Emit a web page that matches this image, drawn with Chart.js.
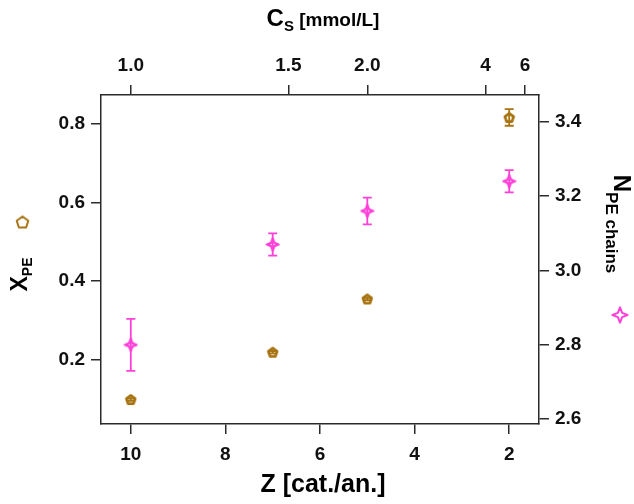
<!DOCTYPE html>
<html>
<head>
<meta charset="utf-8">
<script src="https://cdn.jsdelivr.net/npm/chart.js@4.4.0/dist/chart.umd.min.js"></script>
<style>
html, body { margin: 0; padding: 0; background: #fff; }
#wrap { width: 634px; height: 504px; }
</style>
</head>
<body>
<div id="wrap"><canvas id="chart" width="634" height="504"></canvas></div>
<script>
// ---------- data ----------
const zValues = [10, 7, 5, 2];
const xpeValues = [0.10, 0.22, 0.355, 0.815];
const xpeErrors = [0.003, 0.003, 0.003, 0.021];
const nChainValues = [2.80, 3.07, 3.16, 3.24];
const nChainErrors = [0.07, 0.03, 0.036, 0.03];

const zTicks = [10, 8, 6, 4, 2];
const csTickValues = [1.0, 1.5, 2.0, 4, 6];     // top axis, Cs = 10 / Z
const csTickLabels = ["1.0", "1.5", "2.0", "4", "6"];
const xpeTicks = [0.2, 0.4, 0.6, 0.8];
const nChainTicks = [2.6, 2.8, 3.0, 3.2, 3.4];

// ---------- styles ----------
const FONT = "'Liberation Sans', Arial, sans-serif";
const brown = "#a87412";
const pink = "#ff40d8";
const axisColor = "#2b2b2b";
const tickFont = { family: FONT, size: 19, weight: "bold" };

// ---------- marker images ----------
function makePentagon(size, color, lw) {
    const c = document.createElement("canvas");
    c.width = c.height = size;
    const g = c.getContext("2d");
    const r = size / 2 - lw * 0.7;
    const cx = size / 2, cy = size / 2 + r * 0.1;
    g.beginPath();
    for (let i = 0; i < 5; i++) {
        const a = -Math.PI / 2 + i * 2 * Math.PI / 5;
        g.lineTo(cx + r * Math.cos(a), cy + r * Math.sin(a));
    }
    g.closePath();
    g.strokeStyle = color;
    g.lineWidth = lw;
    g.lineJoin = "round";
    g.stroke();
    return c;
}

function makeStar(size, color, lw) {
    const c = document.createElement("canvas");
    c.width = c.height = size;
    const g = c.getContext("2d");
    const r = size / 2 - lw * 0.7;
    const k = r * 0.28;
    const cx = size / 2, cy = size / 2;
    g.beginPath();
    g.moveTo(cx, cy - r);
    g.lineTo(cx + k, cy - k);
    g.lineTo(cx + r, cy);
    g.lineTo(cx + k, cy + k);
    g.lineTo(cx, cy + r);
    g.lineTo(cx - k, cy + k);
    g.lineTo(cx - r, cy);
    g.lineTo(cx - k, cy - k);
    g.closePath();
    g.strokeStyle = color;
    g.lineWidth = lw;
    g.lineJoin = "round";
    g.stroke();
    return c;
}

const pentagonMark = makePentagon(13, brown, 2.8);
const starMark = makeStar(15, pink, 2.4);
const pentagonLegend = makePentagon(15, brown, 2);
const starLegend = makeStar(18, pink, 2);

// ---------- plugins ----------
const errorBars = {
    id: "errorBars",
    afterDatasetsDraw(chart) {
        const ctx = chart.ctx;
        chart.data.datasets.forEach((ds, i) => {
            const meta = chart.getDatasetMeta(i);
            const yScale = chart.scales[ds.yAxisID];
            ctx.save();
            ctx.strokeStyle = ds.borderColor;
            ctx.lineWidth = 1.8;
            meta.data.forEach((pt, j) => {
                const v = ds.data[j].y, e = ds.errors[j];
                const top = yScale.getPixelForValue(v + e);
                const bot = yScale.getPixelForValue(v - e);
                ctx.beginPath();
                ctx.moveTo(pt.x, top); ctx.lineTo(pt.x, bot);
                ctx.moveTo(pt.x - 4.5, top); ctx.lineTo(pt.x + 4.5, top);
                ctx.moveTo(pt.x - 4.5, bot); ctx.lineTo(pt.x + 4.5, bot);
                ctx.stroke();
            });
            ctx.restore();
        });
    }
};

const axisTitles = {
    id: "axisTitles",
    afterDraw(chart) {
        const ctx = chart.ctx;
        ctx.save();
        ctx.fillStyle = "#000";
        ctx.textBaseline = "alphabetic";
        ctx.textAlign = "left";

        // top: C_S [mmol/L]
        ctx.font = `bold 24px ${FONT}`;
        const wC = ctx.measureText("C").width;
        ctx.font = `bold 15px ${FONT}`;
        const wS = ctx.measureText("S").width;
        ctx.font = `bold 19px ${FONT}`;
        const wU = ctx.measureText(" [mmol/L]").width;
        let x0 = 323 - (wC + wS + wU) / 2;
        ctx.font = `bold 24px ${FONT}`;
        ctx.fillText("C", x0, 26);
        ctx.font = `bold 15px ${FONT}`;
        ctx.fillText("S", x0 + wC, 31);
        ctx.font = `bold 19px ${FONT}`;
        ctx.fillText(" [mmol/L]", x0 + wC + wS, 26);

        // bottom: Z [cat./an.]
        ctx.font = `bold 25px ${FONT}`;
        ctx.textAlign = "center";
        ctx.fillText("Z [cat./an.]", 323, 492);
        ctx.textAlign = "left";

        // left: X_PE
        ctx.save();
        ctx.translate(27, 274.5);
        ctx.rotate(-Math.PI / 2);
        ctx.font = `bold 23px ${FONT}`;
        const wX = ctx.measureText("X").width;
        ctx.font = `bold 14px ${FONT}`;
        const wPE = ctx.measureText("PE").width;
        x0 = -(wX + wPE) / 2;
        ctx.font = `bold 23px ${FONT}`;
        ctx.fillText("X", x0, 0);
        ctx.font = `bold 14px ${FONT}`;
        ctx.fillText("PE", x0 + wX, 5);
        ctx.restore();

        // right: N_PE chains
        ctx.save();
        ctx.translate(614, 224);
        ctx.rotate(Math.PI / 2);
        ctx.font = `bold 24px ${FONT}`;
        const wN = ctx.measureText("N").width;
        ctx.font = `bold 17px ${FONT}`;
        const wSub = ctx.measureText("PE chains").width;
        x0 = -(wN + wSub) / 2;
        ctx.font = `bold 24px ${FONT}`;
        ctx.fillText("N", x0, 0);
        ctx.font = `bold 17px ${FONT}`;
        ctx.fillText("PE chains", x0 + wN, 8);
        ctx.restore();

        // symbol keys next to the titles
        ctx.drawImage(pentagonLegend, 22.5 - 7.5, 222 - 7.5);
        ctx.drawImage(starLegend, 620 - 9, 315 - 9);
        ctx.restore();
    }
};

// ---------- chart ----------
const fixedTicks = (list) => (scale) => { scale.ticks = list.map(v => ({ value: v })); };
const gridOpts = { drawOnChartArea: false, drawTicks: true, tickLength: 10, color: axisColor, lineWidth: 1.5 };
const borderOpts = { display: true, color: axisColor, width: 1.5 };
const zMin = 1.37, zMax = 10.63;

new Chart(document.getElementById("chart"), {
    type: "scatter",
    data: {
        datasets: [
            {
                label: "X_PE",
                data: zValues.map((z, i) => ({ x: z, y: xpeValues[i] })),
                errors: xpeErrors,
                xAxisID: "x",
                yAxisID: "y",
                borderColor: brown,
                backgroundColor: brown,
                pointStyle: pentagonMark,
                pointRadius: 6
            },
            {
                label: "N_PE chains",
                data: zValues.map((z, i) => ({ x: z, y: nChainValues[i] })),
                errors: nChainErrors,
                xAxisID: "x",
                yAxisID: "y2",
                borderColor: pink,
                backgroundColor: pink,
                pointStyle: starMark,
                pointRadius: 7
            }
        ]
    },
    options: {
        responsive: false,
        animation: false,
        layout: { padding: 0 },
        plugins: { legend: { display: false }, tooltip: { enabled: false } },
        scales: {
            x: {
                type: "linear", position: "bottom", min: zMin, max: zMax, reverse: true,
                afterBuildTicks: fixedTicks(zTicks),
                afterFit: (s) => { s.height = 80; },
                grid: gridOpts, border: borderOpts,
                ticks: { font: tickFont, color: "#111", padding: 9, maxRotation: 0, autoSkip: false,
                         callback: (v) => String(v) }
            },
            xTop: {
                type: "linear", position: "top", min: zMin, max: zMax, reverse: true,
                afterBuildTicks: (s) => { s.ticks = csTickValues.map(c => ({ value: 10 / c })); },
                afterFit: (s) => { s.height = 95; },
                grid: gridOpts, border: borderOpts,
                ticks: { font: tickFont, color: "#111", padding: 8, maxRotation: 0, autoSkip: false,
                         callback: (v, i) => csTickLabels[i] }
            },
            y: {
                type: "linear", position: "left", min: 0.038, max: 0.872,
                afterBuildTicks: fixedTicks(xpeTicks),
                afterFit: (s) => { s.width = 101; },
                grid: gridOpts, border: borderOpts,
                ticks: { font: tickFont, color: "#111", padding: 6, autoSkip: false,
                         callback: (v) => v.toFixed(1) }
            },
            y2: {
                type: "linear", position: "right", min: 2.587, max: 3.472,
                afterBuildTicks: fixedTicks(nChainTicks),
                afterFit: (s) => { s.width = 95; },
                grid: gridOpts, border: borderOpts,
                ticks: { font: tickFont, color: "#111", padding: 6, autoSkip: false,
                         callback: (v) => v.toFixed(1) }
            }
        }
    },
    plugins: [errorBars, axisTitles]
});
</script>
</body>
</html>
